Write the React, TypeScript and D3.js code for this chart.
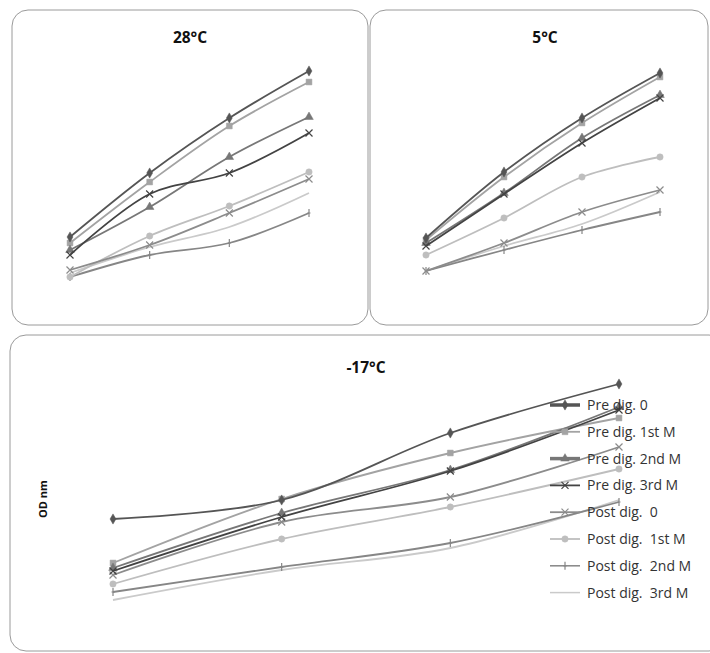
import React from "react";
import * as d3 from "d3";

// sampling points (weeks of storage) - no axis is shown in the picture
const timePoints = ["0", "1", "2", "3"];

const seriesNames = [
  "Pre dig. 0",
  "Pre dig. 1st M",
  "Pre dig. 2nd M",
  "Pre dig. 3rd M",
  "Post dig.  0",
  "Post dig.  1st M",
  "Post dig.  2nd M",
  "Post dig.  3rd M",
];

// OD values, one row per series
const od28 = [
  [0.63, 1.27, 1.82, 2.29],
  [0.57, 1.18, 1.74, 2.18],
  [0.5, 0.93, 1.43, 1.83],
  [0.45, 1.06, 1.27, 1.67],
  [0.3, 0.55, 0.87, 1.21],
  [0.23, 0.64, 0.94, 1.28],
  [0.23, 0.45, 0.57, 0.87],
  [0.27, 0.53, 0.73, 1.07],
];

const od5 = [
  [0.62, 1.28, 1.82, 2.27],
  [0.6, 1.23, 1.77, 2.23],
  [0.57, 1.07, 1.62, 2.05],
  [0.54, 1.06, 1.57, 2.02],
  [0.29, 0.57, 0.88, 1.1],
  [0.45, 0.82, 1.23, 1.43],
  [0.29, 0.5, 0.7, 0.88],
  [0.29, 0.54, 0.76, 1.08],
];

const odMinus17 = [
  [1.01, 1.2, 1.87, 2.36],
  [0.57, 1.21, 1.67, 2.02],
  [0.52, 1.07, 1.5, 2.13],
  [0.49, 1.03, 1.49, 2.1],
  [0.45, 0.98, 1.23, 1.73],
  [0.36, 0.81, 1.13, 1.51],
  [0.28, 0.53, 0.77, 1.18],
  [0.2, 0.5, 0.72, 1.2],
];

const panelTitles = ["28°C", "5°C", "-17°C"];

// styles per series
const colors = ["#555555", "#a3a3a3", "#777777", "#434343", "#8c8c8c", "#bebebe", "#868686", "#cacaca"];
const markers = ["diamond", "square", "triangle", "x", "x", "circle", "plus", "none"];
const legendWidths = [3.5, 1.8, 3.5, 1.8, 1.8, 1.8, 1.5, 1.5];

const FONT = "'Open Sans', 'Liberation Sans', Arial, sans-serif";

const markerPath = (kind: string) => {
  if (kind === "diamond") return d3.symbol(d3.symbolDiamond, 30)() || "";
  if (kind === "square") return d3.symbol(d3.symbolSquare, 34)() || "";
  if (kind === "triangle") return d3.symbol(d3.symbolTriangle, 32)() || "";
  if (kind === "circle") return d3.symbol(d3.symbolCircle, 32)() || "";
  if (kind === "x") return "M-3.5,-3.5L3.5,3.5M-3.5,3.5L3.5,-3.5";
  if (kind === "plus") return "M0,-4L0,4M-1.5,0L1.5,0";
  return "";
};

const Marker = ({ kind, x, y, color }: { kind: string; x: number; y: number; color: string }) => {
  if (kind === "none") return null;
  const stroked = kind === "x" || kind === "plus";
  return (
    <path
      d={markerPath(kind)}
      transform={`translate(${x},${y})`}
      fill={stroked ? "none" : color}
      stroke={color}
      strokeWidth={stroked ? 1.2 : 0.5}
    />
  );
};

type PanelProps = {
  title: string;
  data: number[][];
  box: { x: number; y: number; w: number; h: number };
  xRange: [number, number];
  yRange: [number, number];
  titleX: number;
  titleY: number;
};

const Panel = ({ title, data, box, xRange, yRange, titleX, titleY }: PanelProps) => {
  const x = d3.scalePoint<string>().domain(timePoints).range(xRange);
  const y = d3.scaleLinear().domain([0, 2.5]).range(yRange);
  const line = d3
    .line<number>()
    .x((d, i) => x(timePoints[i]) as number)
    .y((d) => y(d))
    .curve(d3.curveCatmullRom.alpha(0.5));

  return (
    <g>
      <rect x={box.x} y={box.y} width={box.w} height={box.h} rx={16} ry={16} fill="#fff" stroke="#9a9a9a" strokeWidth={1} />
      <text x={titleX} y={titleY} textAnchor="middle" fontFamily={FONT} fontWeight="bold" fontSize={15.5} fill="#111">
        {title}
      </text>
      {/* draw light series first so dark ones sit on top */}
      {[7, 6, 5, 4, 1, 2, 3, 0].map((s) => (
        <g key={s}>
          <path d={line(data[s]) || ""} fill="none" stroke={colors[s]} strokeWidth={1.8} />
          {data[s].map((v, i) => (
            <Marker key={i} kind={markers[s]} x={x(timePoints[i]) as number} y={y(v)} color={colors[s]} />
          ))}
        </g>
      ))}
    </g>
  );
};

const Legend = ({ x0, y0, step }: { x0: number; y0: number; step: number }) => (
  <g>
    {seriesNames.map((name, i) => (
      <g key={name} transform={`translate(${x0},${y0 + i * step})`}>
        <line x1={0} x2={30} y1={0} y2={0} stroke={colors[i]} strokeWidth={legendWidths[i]} />
        <Marker kind={markers[i]} x={15} y={0} color={colors[i]} />
        <text x={37} y={5} fontFamily={FONT} fontSize={14} fill="#333" style={{ whiteSpace: "pre" }}>
          {name}
        </text>
      </g>
    ))}
  </g>
);

export default function App() {
  return (
    <svg width={710} height={653} style={{ position: "absolute", left: 0, top: 0, background: "#fff" }}>
      <Panel
        title={panelTitles[0]}
        data={od28}
        box={{ x: 12, y: 10, w: 356, h: 315 }}
        xRange={[70, 309]}
        yRange={[300, 50]}
        titleX={190}
        titleY={43}
      />
      <Panel
        title={panelTitles[1]}
        data={od5}
        box={{ x: 370, y: 10, w: 338, h: 315 }}
        xRange={[426, 660]}
        yRange={[300, 50]}
        titleX={545}
        titleY={43}
      />
      <Panel
        title={panelTitles[2]}
        data={odMinus17}
        box={{ x: 10, y: 335, w: 715, h: 316 }}
        xRange={[113, 619]}
        yRange={[620, 370]}
        titleX={366}
        titleY={373}
      />
      <text
        transform="translate(47,499) rotate(-90)"
        textAnchor="middle"
        fontFamily={FONT}
        fontWeight="bold"
        fontSize={11}
        fill="#111"
      >
        OD nm
      </text>
      <Legend x0={550} y0={405} step={26.8} />
    </svg>
  );
}
